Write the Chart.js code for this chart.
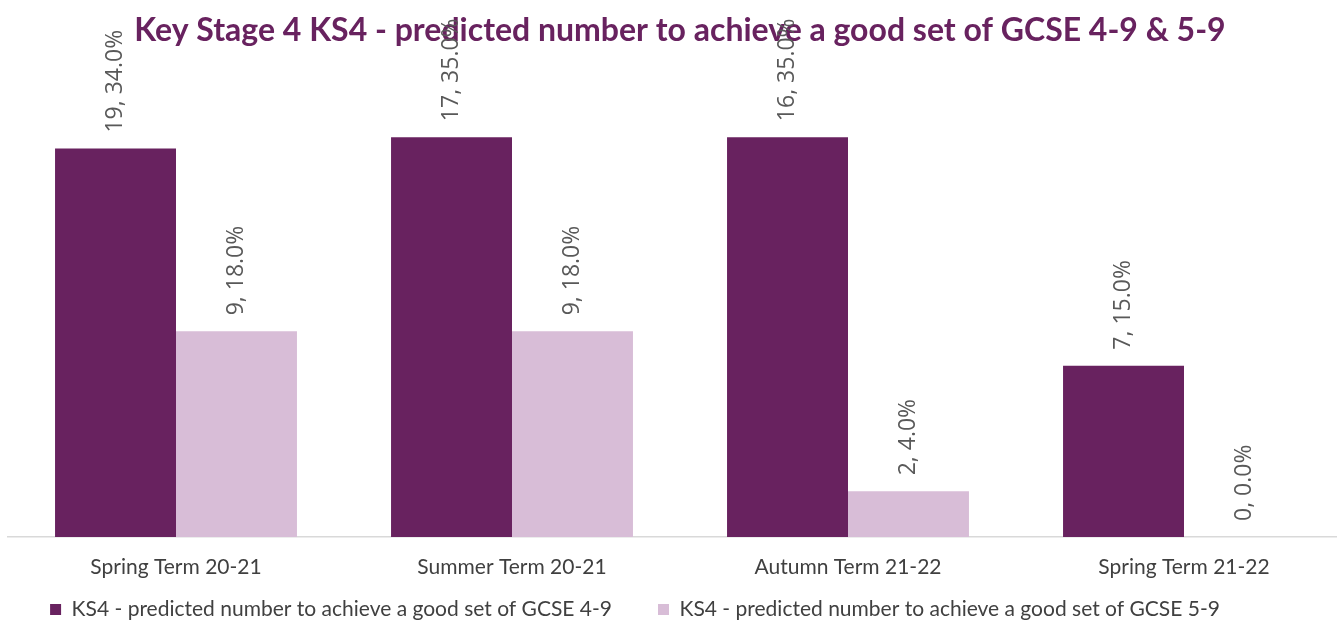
<!DOCTYPE html>
<html>
<head>
<meta charset="utf-8">
<script src="https://cdn.jsdelivr.net/npm/chart.js@4.4.1/dist/chart.umd.min.js"></script>
<style>
  html, body { margin: 0; padding: 0; background: #fff; overflow: hidden; }
  #wrap { width: 1337px; height: 621px; overflow: hidden; }
</style>
</head>
<body>
<div id="wrap"><canvas id="ks4-chart" width="1360" height="630"></canvas></div>
<script>
const categories = ['Spring Term 20-21', 'Summer Term 20-21', 'Autumn Term 21-22', 'Spring Term 21-22'];
const seriesNames = [
  'KS4 - predicted number to achieve a good set of GCSE 4-9',
  'KS4 - predicted number to achieve a good set of GCSE 5-9'
];
// pupil counts and share of cohort
const counts49 = [19, 17, 16, 7];
const share49 = [0.34, 0.35, 0.35, 0.15];
const counts59 = [9, 9, 2, 0];
const share59 = [0.18, 0.18, 0.04, 0.0];

const DARK = '#68225f';
const LIGHT = '#d8bdd7';
const LEGEND_GAP = 46;

// rotated "count, pct" labels above each bar
const barLabels = {
  id: 'barLabels',
  afterDatasetsDraw(chart) {
    const ctx = chart.ctx;
    const counts = [counts49, counts59];
    ctx.save();
    ctx.font = '23px "Open Sans"';
    ctx.fillStyle = '#595959';
    ctx.textAlign = 'left';
    ctx.textBaseline = 'middle';
    chart.data.datasets.forEach((ds, i) => {
      chart.getDatasetMeta(i).data.forEach((bar, j) => {
        const txt = counts[i][j] + ', ' + (ds.data[j] * 100).toFixed(1) + '%';
        ctx.save();
        ctx.translate(bar.x, bar.y - 16);
        ctx.rotate(-Math.PI / 2);
        ctx.fillText(txt, 0, 0);
        ctx.restore();
      });
    });
    ctx.restore();
  }
};

// legend: wide gap between items but a short box, and a bit left of centre
const legendShift = {
  id: 'legendShift',
  afterLayout(chart) {
    const lg = chart.legend;
    lg.top -= LEGEND_GAP - 10;
    lg.left -= 45;
    lg.right -= 45;
  }
};

const chart = new Chart(document.getElementById('ks4-chart'), {
  type: 'bar',
  data: {
    labels: categories,
    datasets: [
      { label: seriesNames[0], data: share49, backgroundColor: DARK },
      { label: seriesNames[1], data: share59, backgroundColor: LIGHT }
    ]
  },
  options: {
    responsive: false,
    animation: false,
    categoryPercentage: 0.72,
    barPercentage: 1.0,
    layout: { padding: { left: 8, right: 8, top: 0, bottom: 0 } },
    plugins: {
      title: {
        display: true,
        text: 'Key Stage 4 KS4 - predicted number to achieve a good set of GCSE 4-9 & 5-9',
        color: DARK,
        font: { family: 'Lato', size: 32, weight: 'bold' },
        padding: { top: 11, bottom: 30.6 }
      },
      legend: {
        position: 'bottom',
        labels: {
          color: '#404040',
          font: { family: 'Lato', size: 21 },
          boxWidth: 11,
          boxHeight: 11,
          padding: LEGEND_GAP
        }
      },
      tooltip: { enabled: false }
    },
    scales: {
      x: {
        grid: { display: false, drawTicks: false },
        border: { display: true, color: '#d9d9d9', width: 1.5 },
        ticks: { color: '#404040', font: { family: 'Lato', size: 21 }, padding: 18 },
        afterFit(scale) { scale.height = 52; }
      },
      y: {
        display: false,
        min: 0,
        max: 0.4
      }
    }
  },
  plugins: [barLabels, legendShift]
});

const baseFit = chart.legend.fit;
chart.legend.fit = function () {
  baseFit.call(this);
  this.height = 41;
};
chart.update();
</script>
</body>
</html>
